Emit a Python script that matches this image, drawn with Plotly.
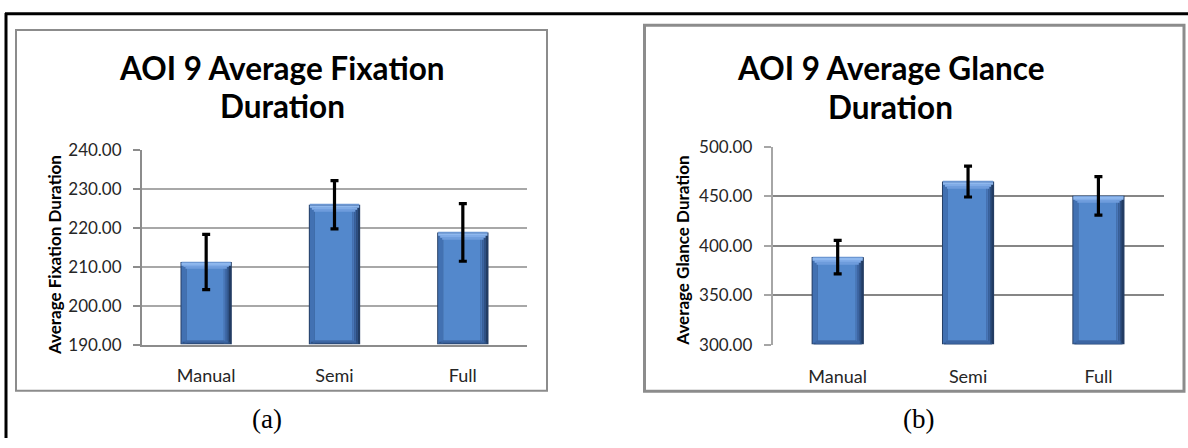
import plotly.graph_objects as go

# ---- data -------------------------------------------------------------
categories = ["Manual", "Semi", "Full"]

fixation_mean = [211.2, 225.9, 218.8]
fixation_err = [7.1, 6.2, 7.4]
fixation_ticks = [190, 200, 210, 220, 230, 240]

glance_mean = [388.4, 464.7, 450.3]
glance_err = [16.9, 15.6, 19.4]
glance_ticks = [300, 350, 400, 450, 500]

# ---- page geometry (pixels) -------------------------------------------
W, H = 1188, 448
FONT = "Lato"


def fx(p):
    return p / W


def fy(p):
    return 1 - p / H


# plot areas in pixels: (left, right, top, bottom)
PA = (142.0, 527.0, 145.7, 350.0)
PB = (772.5, 1163.6, 142.3, 350.0)

BAR_W = 0.40  # bar width in category units


def bevel_bars(values, ymin, ymax, area, xa, ya):
    """Builds a bevelled bar look out of stacked overlay bar layers."""
    left, right, top, bottom = area
    ypp = (ymax - ymin) / (bottom - top)      # data units per pixel
    cpp = len(values) / (right - left)        # category units per pixel
    bw = BAR_W / cpp                          # bar width in pixels
    out = []

    def layer(x0, x1, lo, hi, color):
        base = [ymin + lo(v) for v in values]
        height = [ymin + hi(v) - b for v, b in zip(values, base)]
        out.append(go.Bar(
            x=categories, y=height, base=base,
            width=(x1 - x0) * cpp, offset=-BAR_W / 2 + x0 * cpp,
            marker=dict(color=color, line_width=0),
            xaxis=xa, yaxis=ya, hoverinfo="skip", showlegend=False,
        ))

    def from_base(p):
        return lambda v: p * ypp

    def from_top(p):
        return lambda v: (v - ymin) - p * ypp

    # dark outline
    layer(0, bw, from_base(0), from_top(0), "#263f66")
    # left bevel
    layer(1, 6, from_base(1), from_top(1), "#4271b2")
    # right shading, darkening toward the edge
    layer(bw - 8, bw - 6, from_base(1), from_top(1), "#4876b8")
    layer(bw - 6, bw - 4, from_base(1), from_top(1), "#3b64a0")
    layer(bw - 4, bw - 2, from_base(1), from_top(1), "#2e5083")
    layer(bw - 2, bw - 1, from_base(1), from_top(1), "#223c63")
    # body
    layer(6, bw - 8, from_base(4), from_top(1), "#5388cc")
    # bottom bevel
    layer(2, bw - 2, from_base(1), from_base(2), "#2f5285")
    layer(4, bw - 4, from_base(2), from_base(4), "#3c66a3")
    # top bevel (stepped trapezoid)
    layer(1, bw - 1, from_top(1), from_top(0), "#6c97d2")
    layer(1, bw - 1, from_top(3), from_top(1), "#8fb8ee")
    layer(3, bw - 3, from_top(5), from_top(3), "#80abe7")
    layer(5, bw - 5, from_top(7), from_top(5), "#6e9cdc")
    return out


traces = []
traces += bevel_bars(fixation_mean, 190, 240, PA, "x", "y")
traces += bevel_bars(glance_mean, 300, 500, PB, "x2", "y2")

for vals, errs, xa, ya in ((fixation_mean, fixation_err, "x", "y"),
                           (glance_mean, glance_err, "x2", "y2")):
    traces.append(go.Scatter(
        x=categories, y=vals, mode="markers",
        marker=dict(size=2, color="rgba(0,0,0,0)"),
        error_y=dict(type="data", array=errs, visible=True,
                     color="black", thickness=3.2, width=4),
        xaxis=xa, yaxis=ya, hoverinfo="skip", showlegend=False,
    ))

fig = go.Figure(traces)

ytick_font = dict(family=FONT, size=17, color="#262626")
xtick_font = dict(family=FONT, size=18, color="#262626")

fig.update_layout(
    width=W, height=H,
    margin=dict(l=0, r=0, t=0, b=0),
    paper_bgcolor="white", plot_bgcolor="white",
    barmode="overlay", showlegend=False,
    xaxis=dict(
        domain=[fx(PA[0]), fx(PA[1])], anchor="y", range=[-0.5, 2.5],
        showgrid=False, showline=True, linecolor="#8c8c8c", linewidth=2,
        ticks="", tickfont=xtick_font, ticklabelstandoff=14,
        fixedrange=True,
    ),
    yaxis=dict(
        domain=[fy(PA[3]), fy(PA[2])], anchor="x", range=[190, 240],
        tickvals=fixation_ticks, tickformat=".2f",
        showgrid=True, gridcolor="#a8a8a8", gridwidth=2,
        showline=True, linecolor="#8c8c8c", linewidth=2,
        ticks="outside", ticklen=7, tickcolor="#8c8c8c", tickwidth=2,
        tickfont=ytick_font, ticklabelstandoff=8, zeroline=False,
        fixedrange=True,
    ),
    xaxis2=dict(
        domain=[fx(PB[0]), fx(PB[1])], anchor="y2", range=[-0.5, 2.5],
        showgrid=False, showline=False,
        ticks="", tickfont=xtick_font, ticklabelstandoff=19,
        fixedrange=True,
    ),
    yaxis2=dict(
        domain=[fy(PB[3]), fy(PB[2])], anchor="x2", range=[300, 500],
        tickvals=glance_ticks, tickformat=".2f",
        showgrid=True, gridcolor="#868686", gridwidth=1.5,
        showline=True, linecolor="#a6a6a6", linewidth=1.5,
        ticks="outside", ticklen=7, tickcolor="#a6a6a6", tickwidth=1.5,
        tickfont=ytick_font, ticklabelstandoff=8, zeroline=False,
        fixedrange=True,
    ),
)

# frames: page border and the two chart boxes
shapes = [
    dict(type="line", xref="paper", yref="paper",
         x0=fx(5), x1=1, y0=fy(3), y1=fy(3),
         line=dict(color="black", width=3)),
    dict(type="line", xref="paper", yref="paper",
         x0=fx(6), x1=fx(6), y0=fy(2), y1=0,
         line=dict(color="black", width=3)),
    dict(type="rect", xref="paper", yref="paper",
         x0=fx(16), x1=fx(547), y0=fy(398.5), y1=fy(20),
         line=dict(color="#8c8c8c", width=2)),
    dict(type="rect", xref="paper", yref="paper",
         x0=fx(644.5), x1=fx(1184), y0=fy(399), y1=fy(15),
         line=dict(color="#8c8c8c", width=3)),
    # the glance chart has no baseline rule
    dict(type="line", xref="x2 domain", yref="y2",
         x0=0.002, x1=1, y0=300, y1=300, layer="below",
         line=dict(color="white", width=3)),
]
fig.update_layout(shapes=shapes)

title_font = dict(family=FONT, size=31.5, color="black")
axis_title_font = dict(family=FONT, size=17, color="black")
caption_font = dict(family="Liberation Serif", size=27, color="black")

annotations = [
    dict(text="<b>AOI 9 Average Fixation</b>", x=fx(282), y=fy(60)),
    dict(text="<b>Duration</b>", x=fx(282), y=fy(100)),
    dict(text="<b>AOI 9 Average Glance</b>", x=fx(890), y=fy(60)),
    dict(text="<b>Duration</b>", x=fx(890), y=fy(101)),
]
annotations = [dict(a, font=title_font) for a in annotations]
annotations += [
    dict(text="<b>Average Fixation Duration</b>", x=fx(54), y=fy(256),
         textangle=-90, font=axis_title_font),
    dict(text="<b>Average Glance Duration</b>", x=fx(682.5), y=fy(252),
         textangle=-90, font=axis_title_font),
    dict(text="(a)", x=fx(267), y=fy(428), font=caption_font),
    dict(text="(b)", x=fx(918), y=fy(428), font=caption_font),
]
annotations = [dict(a, xref="paper", yref="paper", showarrow=False,
                    xanchor="center", yanchor="middle") for a in annotations]
fig.update_layout(annotations=annotations)

fig.write_html("out.html")
